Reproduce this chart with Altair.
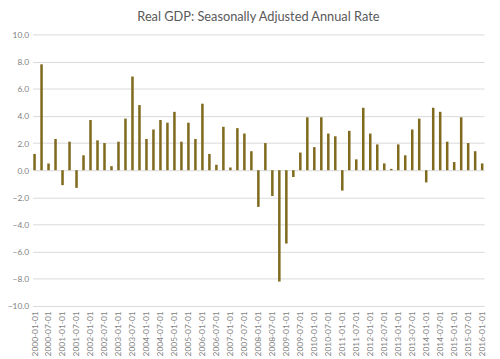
import altair as alt
import pandas as pd

quarters = [f"{y}-{m:02d}-01" for y in range(2000, 2017) for m in (1, 4, 7, 10)][:65]
values = [
    1.2, 7.8, 0.5, 2.3,
    -1.1, 2.1, -1.3, 1.1,
    3.7, 2.2, 2.0, 0.3,
    2.1, 3.8, 6.9, 4.8,
    2.3, 3.0, 3.7, 3.5,
    4.3, 2.1, 3.5, 2.3,
    4.9, 1.2, 0.4, 3.2,
    0.2, 3.1, 2.7, 1.4,
    -2.7, 2.0, -1.9, -8.2,
    -5.4, -0.5, 1.3, 3.9,
    1.7, 3.9, 2.7, 2.5,
    -1.5, 2.9, 0.8, 4.6,
    2.7, 1.9, 0.5, 0.1,
    1.9, 1.1, 3.0, 3.8,
    -0.9, 4.6, 4.3, 2.1,
    0.6, 3.9, 2.0, 1.4,
    0.5,
]
label_values = [q for q in quarters if q[5:7] in ("01", "07")]

df = pd.DataFrame({"quarter": quarters, "gdp": values})

chart = (
    alt.Chart(df)
    .mark_bar(color="#7F6A1E")
    .encode(
        x=alt.X(
            "quarter:N",
            sort=quarters,
            title=None,
            scale=alt.Scale(paddingInner=0.64, paddingOuter=0.1),
            axis=alt.Axis(
                values=label_values,
                labelAngle=-90,
                labelFontSize=8.5,
                labelColor="#7f7f7f",
                labelFont="Lato",
                ticks=False,
                domain=False,
                labelPadding=5,
            ),
        ),
        y=alt.Y(
            "gdp:Q",
            title=None,
            scale=alt.Scale(domain=[-10, 10], nice=False),
            axis=alt.Axis(
                values=list(range(-10, 11, 2)),
                format=".1f",
                labelFontSize=8.5,
                labelColor="#7f7f7f",
                labelFont="Lato",
                ticks=False,
                domain=False,
                labelPadding=4,
                gridColor="#d9d9d9",
                gridWidth=1,
            ),
        ),
    )
    .properties(
        width=459,
        height=276,
        title=alt.TitleParams(
            "Real GDP: Seasonally Adjusted Annual Rate",
            font="Lato",
            fontSize=13,
            fontWeight="normal",
            color="#595959",
            anchor="middle",
            offset=7,
        ),
        autosize=alt.AutoSizeParams(type="none"),
        padding={"left": 25, "top": 24, "right": 8, "bottom": 50},
    )
    .configure_view(stroke=None)
)

chart.save("out.html", embed_options={"renderer": "svg", "actions": False})
